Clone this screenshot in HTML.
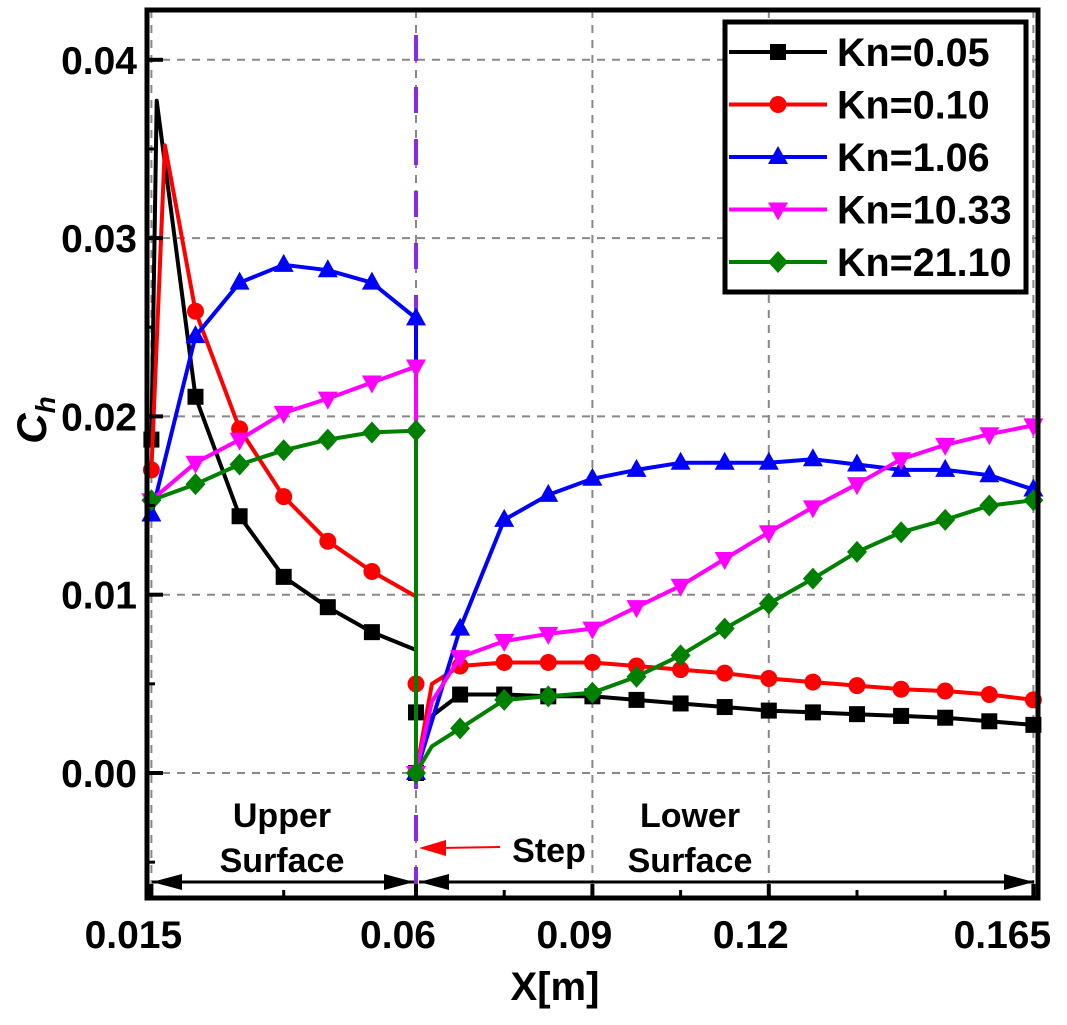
<!DOCTYPE html>
<html><head><meta charset="utf-8"><style>
body{margin:0;background:#fff}
svg{display:block;font-family:"Liberation Sans",Arial,sans-serif;font-weight:bold}
</style></head><body>
<svg id="chart" width="1067" height="1025" viewBox="0 0 1067 1025" xmlns="http://www.w3.org/2000/svg">
<g id="grid"></g>
<g id="series"></g>
<g id="axes"></g>
</svg>
<script>
const seriesNames = ["Kn=0.05","Kn=0.10","Kn=1.06","Kn=10.33","Kn=21.10"];
const xTicks = [0.015,0.06,0.09,0.12,0.165];
const xTickLabels = ["0.015","0.06","0.09","0.12","0.165"];
const yTicks = [0,0.01,0.02,0.03,0.04];
const yTickLabels = ["0.00","0.01","0.02","0.03","0.04"];
const lowerX = [0.0675,0.075,0.0825,0.09,0.0975,0.105,0.1125,0.12,0.1275,0.135,0.1425,0.15,0.1575,0.165];
const k005X = [0.015,0.0159,0.0225,0.03,0.0375,0.045,0.0525,0.06,0.06,0.06,0.0627].concat(lowerX);
const k005Y = [0.0187,0.0377,0.0211,0.0144,0.011,0.0093,0.0079,0.0069,0.0034,0,0.0032,0.0044,0.0044,0.0043,0.0043,0.0041,0.0039,0.0037,0.0035,0.0034,0.0033,0.0032,0.0031,0.0029,0.0027];
const k010X = [0.015,0.0173,0.0225,0.03,0.0375,0.045,0.0525,0.06,0.06,0.06,0.0627].concat(lowerX);
const k010Y = [0.017,0.0352,0.0259,0.0193,0.0155,0.013,0.0113,0.0099,0.005,0,0.005,0.006,0.0062,0.0062,0.0062,0.006,0.0058,0.0056,0.0053,0.0051,0.0049,0.0047,0.0046,0.0044,0.0041];
const k106X = [0.015,0.0225,0.03,0.0375,0.045,0.0525,0.06,0.06].concat(lowerX);
const k106Y = [0.0145,0.0245,0.0275,0.0285,0.0282,0.0275,0.0255,0,0.0081,0.0142,0.0156,0.0165,0.017,0.0174,0.0174,0.0174,0.0176,0.0173,0.017,0.017,0.0167,0.0159];
const k1033X = [0.015,0.0225,0.03,0.0375,0.045,0.0525,0.06,0.06,0.0627].concat(lowerX);
const k1033Y = [0.0153,0.0174,0.0187,0.0202,0.021,0.0219,0.0228,0,0.004,0.0065,0.0074,0.0078,0.0081,0.0093,0.0105,0.012,0.0135,0.0149,0.0162,0.0176,0.0184,0.019,0.0195];
const k2110X = [0.015,0.0225,0.03,0.0375,0.045,0.0525,0.06,0.06,0.0627].concat(lowerX);
const k2110Y = [0.0153,0.0162,0.0173,0.0181,0.0187,0.0191,0.0192,0,0.0015,0.0025,0.0041,0.0043,0.0045,0.0054,0.0066,0.0081,0.0095,0.0109,0.0124,0.0135,0.0142,0.015,0.0153];

const NS="http://www.w3.org/2000/svg";
const L=147,R=1038,T=10,B=898;
function sx(v){return 416+(v-0.06)*5880;}
function sy(v){return 773-v*17830;}
function mk(tag,attrs,parent){const e=document.createElementNS(NS,tag);for(const k in attrs)e.setAttribute(k,attrs[k]);parent.appendChild(e);return e;}
const svg=document.getElementById('chart');
const grid=document.getElementById('grid'),sg=document.getElementById('series'),ax=document.getElementById('axes');

xTicks.forEach(v=>{const g=mk('line',{x1:sx(v),x2:sx(v),y1:T,y2:B,stroke:'#888','stroke-width':2,'stroke-dasharray':'8 7'},grid);

});
yTicks.forEach(v=>{const g=mk('line',{x1:L,x2:R,y1:sy(v),y2:sy(v),stroke:'#888','stroke-width':2,'stroke-dasharray':'8 7'},grid);

});

const st=mk('line',{x1:416,x2:416,y1:35,y2:885,stroke:'#8a2be2','stroke-width':4,'stroke-dasharray':'26 26'},grid);



const colors=['#000','#f00','#00f','#f0f','#008000'];
const shapes=['square','circle','up','down','diamond'];
const allX=[k005X,k010X,k106X,k1033X,k2110X],allY=[k005Y,k010Y,k106Y,k1033Y,k2110Y];
function marker(shape,x,y,c,par){
  let e;
  if(shape==='square')e=mk('rect',{x:x-8,y:y-8,width:16,height:16,fill:c},par);
  else if(shape==='circle')e=mk('circle',{cx:x,cy:y,r:8.5,fill:c},par);
  else if(shape==='up')e=mk('polygon',{points:`${x},${y-11} ${x-10},${y+7} ${x+10},${y+7}`,fill:c},par);
  else if(shape==='down')e=mk('polygon',{points:`${x},${y+11} ${x-10},${y-7} ${x+10},${y-7}`,fill:c},par);
  else e=mk('polygon',{points:`${x},${y-11} ${x+10},${y} ${x},${y+11} ${x-10},${y}`,fill:c},par);
  return e;
}
function onGrid(v){const k=(v-0.015)/0.0075;return Math.abs(k-Math.round(k))<0.02;}
allX.forEach((xs,i)=>{
  const g=mk('g',{},sg);
  
  
  const d=xs.map((x,j)=>(j?'L':'M')+sx(x).toFixed(1)+','+sy(allY[i][j]).toFixed(1)).join('');
  const p=mk('path',{d:d,fill:'none',stroke:colors[i],'stroke-width':4,'stroke-linejoin':'round'},g);
  
  
  xs.forEach((x,j)=>{
    if(!onGrid(x))return;
    if(i===0&&j===7)return;
    if(i===1&&j===7)return;
    const m=marker(shapes[i],sx(x),sy(allY[i][j]),colors[i],g);
    
    
  });
});

const fr=mk('rect',{x:L,y:T,width:R-L,height:B-T,fill:'none',stroke:'#000','stroke-width':5},ax);



xTicks.forEach((v,i)=>{
  const t=mk('line',{x1:sx(v),x2:sx(v),y1:B,y2:B-14,stroke:'#000','stroke-width':4},ax);
  
  
  const off=(i===xTicks.length-1)?-31:-18;
  const tx=mk('text',{x:sx(v)+off,y:948,'text-anchor':'middle','font-size':39},ax);
  tx.textContent=xTickLabels[i];
  
  
});
[0.0375,0.075,0.105,0.135,0.15].forEach(v=>{const t=mk('line',{x1:sx(v),x2:sx(v),y1:B,y2:B-8,stroke:'#000','stroke-width':3},ax);

});
yTicks.forEach((v,i)=>{
  const t=mk('line',{x1:L,x2:L+16,y1:sy(v),y2:sy(v),stroke:'#000','stroke-width':4},ax);
  
  
  const tx=mk('text',{x:137,y:sy(v)+14,'text-anchor':'end','font-size':39},ax);
  tx.textContent=yTickLabels[i];
  
  
});
[-0.005,0.005,0.015,0.025,0.035].forEach(v=>{const t=mk('line',{x1:L,x2:L+8,y1:sy(v),y2:sy(v),stroke:'#000','stroke-width':3},ax);

});

function text(s,x,y,size,name,extra){const t=mk('text',Object.assign({x:x,y:y,'font-size':size,'text-anchor':'middle'},extra||{}),ax);t.textContent=s;

return t;}
text('X[m]',555,1000,40,'x-axis-title');
const yt=mk('text',{x:0,y:0,'font-size':42,'text-anchor':'middle','font-style':'italic',transform:'translate(46,420) rotate(-90)'},ax);
yt.innerHTML='C<tspan font-size="28" dy="9">h</tspan>';



text('Upper',282,827,34,'upper-surface-label');
text('Surface',282,872,34,'upper-surface-label-2');
text('Lower',690,827,34,'lower-surface-label');
text('Surface',690,872,34,'lower-surface-label-2');
text('Step',549,862,34,'step-label');

function arrow(x1,x2,y,name){
  const g=mk('g',{},ax);
  
  
  mk('line',{x1:x1,x2:x2,y1:y,y2:y,stroke:'#000','stroke-width':3},g);
  mk('polygon',{points:`${x1},${y} ${x1+30},${y-8} ${x1+30},${y+8}`,fill:'#000'},g);
  mk('polygon',{points:`${x2},${y} ${x2-30},${y-8} ${x2-30},${y+8}`,fill:'#000'},g);
}
arrow(152,414,882,'upper-surface-arrow');
arrow(419,1034,882,'lower-surface-arrow');
const sa=mk('g',{},ax);


mk('line',{x1:500,x2:440,y1:847,y2:848,stroke:'#f00','stroke-width':2},sa);
mk('polygon',{points:'419,848 446,840 446,856',fill:'#f00'},sa);

const lg=mk('g',{},ax);


mk('rect',{x:725,y:22,width:301,height:270,fill:'#fff',stroke:'#000','stroke-width':5},lg);
seriesNames.forEach((n,i)=>{
  const y=52+i*52.5;
  const e=mk('g',{},lg);
  
  
  mk('line',{x1:729,x2:827,y1:y,y2:y,stroke:colors[i],'stroke-width':4},e);
  marker(shapes[i],778,y,colors[i],e);
  const t=mk('text',{x:837,y:y+14,'font-size':39.5},e);
  t.textContent=n;
});
</script>
</body></html>
